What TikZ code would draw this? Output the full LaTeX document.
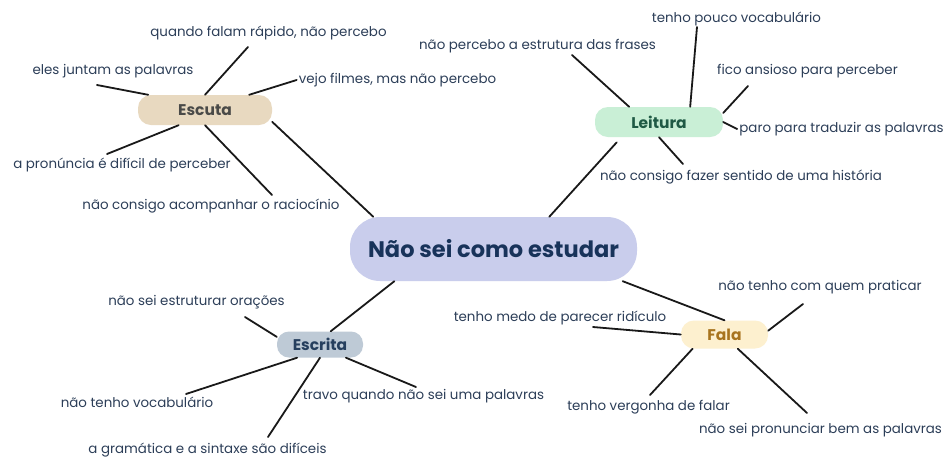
\documentclass[tikz,border=0pt]{standalone}
\usepackage{fontspec}
\setmainfont{Poppins}
\usetikzlibrary{calc,positioning}
\definecolor{hubfill}{HTML}{C9CDEC}
\definecolor{hubtext}{HTML}{18335A}
\definecolor{escfill}{HTML}{E8D9C0}
\definecolor{esctext}{HTML}{4A4A48}
\definecolor{leifill}{HTML}{C9EFD6}
\definecolor{leitext}{HTML}{1F5A45}
\definecolor{wrifill}{HTML}{BECAD6}
\definecolor{writext}{HTML}{263F5E}
\definecolor{falfill}{HTML}{FDF0CF}
\definecolor{faltext}{HTML}{A8741E}
\definecolor{leaftext}{HTML}{2C3E58}
\begin{document}
\begin{tikzpicture}[x=1pt,y=-1pt,
  hub/.style={fill=hubfill,text=hubtext,rounded corners=30pt,minimum width=287pt,minimum height=64pt,font=\fontsize{22.5}{26}\selectfont\bfseries},
  topic/.style={rounded corners=13pt,minimum height=30pt,font=\fontsize{15.5}{18}\selectfont\bfseries},
  leaf/.style={text=leaftext,inner sep=2pt,font=\fontsize{13.4}{16}\selectfont},
  link/.style={line width=1.8pt,line cap=round,draw=black!90}]
  \useasboundingbox[fill=white] (0,0) rectangle (946,459);

  \node[hub] (hub) at (493.5,249) {Não sei como estudar};

  \node[topic,fill=escfill,text=esctext,minimum width=134pt] (escuta) at (205,110) {Escuta};
  \node[topic,fill=leifill,text=leitext,minimum width=128pt] (leitura) at (659,122) {Leitura};
  \node[topic,fill=wrifill,text=writext,minimum width=86pt,minimum height=26pt,rounded corners=12pt] (escrita) at (320,344.5) {Escrita};
  \node[topic,fill=falfill,text=faltext,minimum width=87pt,minimum height=28pt] (fala) at (724.5,334.5) {Fala};

  \node[leaf] (q) at (268.5,33) {quando falam rápido, não percebo};
  \node[leaf] (e) at (113,71) {eles juntam as palavras};
  \node[leaf] (v) at (397.5,80) {vejo filmes, mas não percebo};
  \node[leaf] (p) at (122,165) {a pronúncia é difícil de perceber};
  \node[leaf] (r) at (211,206) {não consigo acompanhar o raciocínio};

  \node[leaf] (t) at (736.5,19) {tenho pouco vocabulário};
  \node[leaf] (s) at (537.5,46) {não percebo a estrutura das frases};
  \node[leaf] (f) at (807.5,71) {fico ansioso para perceber};
  \node[leaf] (pa) at (841.5,129) {paro para traduzir as palavras};
  \node[leaf] (n) at (741,177) {não consigo fazer sentido de uma história};

  \node[leaf] (es) at (196.5,302) {não sei estruturar orações};
  \node[leaf] (ntv) at (137,402) {não tenho vocabulário};
  \node[leaf] (tr) at (423.5,396) {travo quando não sei uma palavras};
  \node[leaf] (g) at (207.5,450) {a gramática e a sintaxe são difíceis};

  \node[leaf] (ntc) at (820,287) {não tenho com quem praticar};
  \node[leaf] (tm) at (560,318) {tenho medo de parecer ridículo};
  \node[leaf] (tv) at (648.5,407) {tenho vergonha de falar};
  \node[leaf] (ps) at (820.5,430) {não sei pronunciar bem as palavras};

  \draw[link] (escuta.-10) -- (hub.165);
  \draw[link,shorten <=7pt] (leitura.202) -- (hub.30);
  \draw[link] (escrita.51) -- (hub.198);
  \draw[link] (fala.north) -- (hub.346);

  \draw[link] (escuta.90) -- ([shift={(-20.5,14)}]q.center);
  \draw[link] (escuta.165) -- ([shift={(-16,14)}]e.center);
  \draw[link] (escuta.19) -- (v.west);
  \draw[link] (escuta.210) -- ([shift={(-15,-11)}]p.center);
  \draw[link] (escuta.270) -- ([shift={(61,-11)}]r.center);

  \draw[link] (leitura.26) -- ([shift={(-39.5,8)}]t.center);
  \draw[link] (leitura.153) -- ([shift={(34.5,9)}]s.center);
  \draw[link] (leitura.8) -- ([shift={(-59.5,15)}]f.center);
  \draw[link] (leitura.east) -- (pa.west);
  \draw[link] (leitura.south) -- ([shift={(-58,-13)}]n.center);

  \draw[link] (escrita.170) -- ([shift={(48.5,15)}]es.center);
  \draw[link] (escrita.210) -- ([shift={(49,-8)}]ntv.center);
  \draw[link] (escrita.333) -- ([shift={(-7.5,-9)}]tr.center);
  \draw[link] (escrita.south) -- ([shift={(60.5,-13)}]g.center);

  \draw[link] (fala.5) -- ([shift={(-17,17)}]ntc.center);
  \draw[link] (fala.west) -- ([shift={(33,9)}]tm.center);
  \draw[link] (fala.204) -- ([shift={(1.5,-12)}]tv.center);
  \draw[link] (fala.313) -- ([shift={(-13.5,-17)}]ps.center);
\end{tikzpicture}
\end{document}
